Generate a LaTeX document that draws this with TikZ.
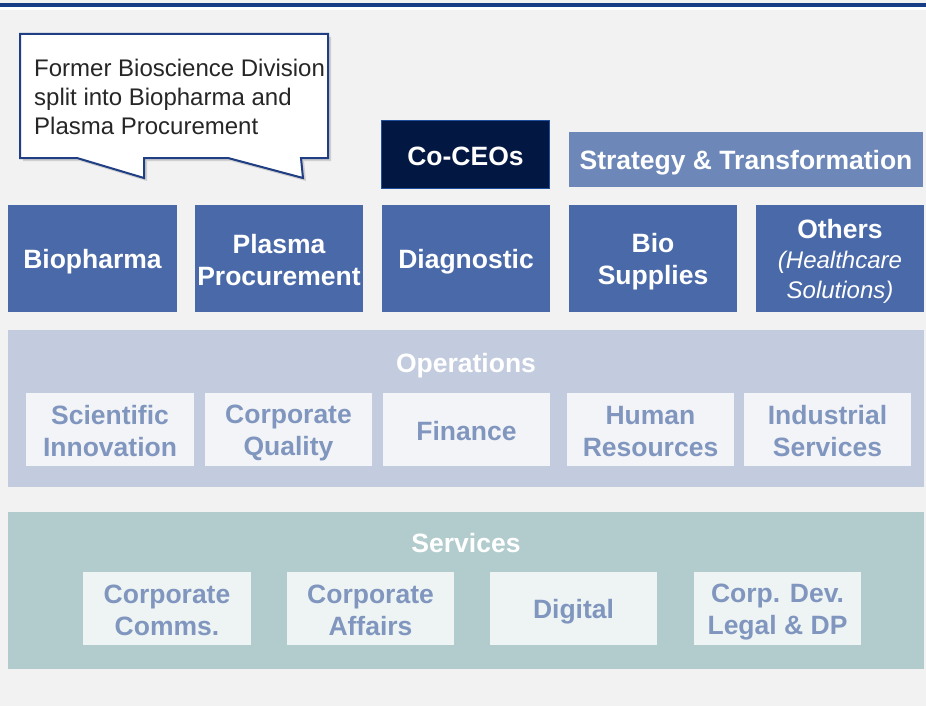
\documentclass[tikz,border=0pt]{standalone}
\usepackage{fontspec}
\setmainfont{Liberation Sans}
\usetikzlibrary{shadows}
\definecolor{bgc}{HTML}{F2F2F2}
\definecolor{topblue}{HTML}{163D86}
\definecolor{callborder}{HTML}{1F3E84}
\definecolor{ceofill}{HTML}{021741}
\definecolor{ceoborder}{HTML}{1F4E9A}
\definecolor{divfill}{HTML}{4A69A8}
\definecolor{stratfill}{HTML}{6C87B8}
\definecolor{opsband}{HTML}{C3CCDF}
\definecolor{opsinner}{HTML}{F2F4F8}
\definecolor{srvband}{HTML}{B2CCCD}
\definecolor{srvinner}{HTML}{EEF4F4}
\definecolor{subtext}{HTML}{8096BE}
\definecolor{calltext}{HTML}{262626}
\newcommand{\ts}{\rule[-3pt]{0pt}{28pt}}
\newcommand{\itl}{\fontsize{24}{30}\selectfont\mdseries\itshape}
\tikzset{
  bigfont/.style={font=\fontsize{26.5}{32}\selectfont\bfseries},
  divbox/.style={fill=divfill, text=white, bigfont, align=center, inner sep=0pt, outer sep=0pt, minimum width=168pt, minimum height=107pt},
  band/.style={inner sep=0pt, outer sep=0pt, minimum width=916pt, minimum height=157pt},
  subbox/.style={text=subtext, bigfont, align=center, inner sep=0pt, outer sep=0pt, minimum width=167pt, minimum height=73pt},
  bandtitle/.style={text=white, bigfont, anchor=base, inner sep=0pt},
}
\begin{document}
\begin{tikzpicture}[x=1pt,y=-1pt]
\useasboundingbox (0,0) rectangle (926,706);
\fill[bgc] (0,0) rectangle (926,706);
\fill[white] (0,7) rectangle (926,10);
\fill[topblue] (0,3) rectangle (926,7);

% callout
\draw[callborder, line width=2pt, fill=white, line join=miter,
      drop shadow={opacity=0.3, shadow xshift=3pt, shadow yshift=-3pt}]
  (20,34) -- (328,34) -- (328,158) -- (301,158) -- (303,178) -- (228,158)
  -- (144,158) -- (144,178) -- (77,158) -- (20,158) -- cycle;
\node[anchor=north west, align=left, text=calltext, inner sep=0pt,
      font=\fontsize{24}{29}\selectfont] (callt) at (34,59)
  {Former Bioscience Division\\split into Biopharma and\\Plasma Procurement};

% top row
\node[fill=ceofill, draw=ceoborder, line width=1pt, text=white, bigfont, inner sep=0pt,
      minimum width=168pt, minimum height=68pt] (ceo) at (465.5,154.5) {\ts Co-CEOs};
\node[fill=stratfill, text=white, bigfont, inner sep=0pt, outer sep=0pt,
      minimum width=354pt, minimum height=55pt] (strat) at (746,159.5) {\ts Strategy \& Transformation};

% divisions
\node[divbox, minimum width=169pt] (biop) at (92.5,258.5) {\ts Biopharma};
\node[divbox] (plasma) at (279,258.5) {\ts Plasma\\\ts Procurement};
\node[divbox] (diag) at (466,258.5) {\ts Diagnostic};
\node[divbox] (bios) at (653,258.5) {\ts Bio\\\ts Supplies};
\node[divbox] (others) at (840,258.5) {\ts Others\\[-2pt]{\itl\ts (Healthcare}\\[-2pt]{\itl\ts Solutions)}};

% operations
\node[band, fill=opsband] (ops) at (466,408.5) {};
\node[bandtitle] (opst) at (466,372.5) {Operations};
\node[subbox, fill=opsinner, minimum width=168pt] (sci) at (110,429.5) {\ts Scientific\\\ts Innovation};
\node[subbox, fill=opsinner] (cq) at (288.5,429.5) {\ts Corporate\\\ts Quality};
\node[subbox, fill=opsinner] (fin) at (466.5,429.5) {\ts Finance};
\node[subbox, fill=opsinner] (hr) at (650.5,429.5) {\ts Human\\\ts Resources};
\node[subbox, fill=opsinner] (ind) at (827.5,429.5) {\ts Industrial\\\ts Services};

% services
\node[band, fill=srvband] (srv) at (466,590.5) {};
\node[bandtitle] (srvt) at (466,552.5) {Services};
\node[subbox, fill=srvinner, minimum width=168pt] (cc) at (167,608.5) {\ts Corporate\\\ts Comms.};
\node[subbox, fill=srvinner] (ca) at (370.5,608.5) {\ts Corporate\\\ts Affairs};
\node[subbox, fill=srvinner] (dig) at (573.5,608.5) {\ts Digital};
\node[subbox, fill=srvinner] (cd) at (777.5,608.5) {\ts Corp. Dev.\\\ts Legal \& DP};
\end{tikzpicture}
\end{document}
